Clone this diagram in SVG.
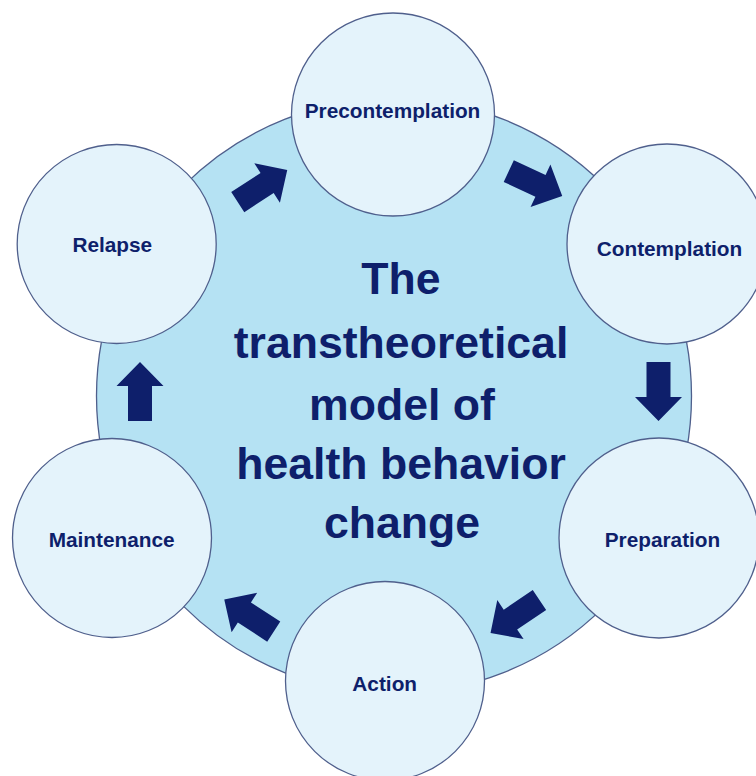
<svg xmlns="http://www.w3.org/2000/svg" xmlns:xlink="http://www.w3.org/1999/xlink" width="756" height="776" viewBox="0 0 756 776">
  <style>
    .hub { fill: #b5e2f3; stroke: #4f5f8c; stroke-width: 1.3; }
    .stage { fill: #e4f3fb; stroke: #4f5f8c; stroke-width: 1.3; }
    .label { font-family: "Liberation Sans", Arial, sans-serif; font-weight: bold; font-size: 20.8px; fill: #0e1f6b; text-anchor: middle; }
    .title { font-family: "Liberation Sans", Arial, sans-serif; font-weight: bold; font-size: 44.6px; fill: #0e1f6b; text-anchor: middle; }
    .arrow { fill: #0e1f6b; }
  </style>
  <defs>
    <!-- block arrow pointing up, centred on the origin -->
    <path id="blockArrow" d="M0,-29.5 L23.5,-5.5 L12,-5.5 L12,29.5 L-12,29.5 L-12,-5.5 L-23.5,-5.5 Z"/>
  </defs>

  <rect width="756" height="776" fill="#ffffff"/>

  <!-- central disc with the model title -->
  <g id="hub">
    <circle class="hub" cx="394" cy="396" r="297.5"/>
    <text class="title" x="401" y="294">The</text>
    <text class="title" x="401" y="358">transtheoretical</text>
    <text class="title" x="402" y="420">model of</text>
    <text class="title" x="401" y="479">health behavior</text>
    <text class="title" x="402" y="538">change</text>
  </g>

  <!-- clockwise cycle arrows -->
  <g id="connectors" class="arrow">
    <use xlink:href="#blockArrow" transform="translate(262.5,186) rotate(57)"/>
    <use xlink:href="#blockArrow" transform="translate(535.5,183.5) rotate(115)"/>
    <use xlink:href="#blockArrow" transform="translate(658.5,391.5) rotate(180)"/>
    <use xlink:href="#blockArrow" transform="translate(515,616.5) rotate(236)"/>
    <use xlink:href="#blockArrow" transform="translate(249,615.5) rotate(-57)"/>
    <use xlink:href="#blockArrow" transform="translate(140,391.5)"/>
  </g>

  <g id="precontemplation">
    <circle class="stage" cx="393" cy="114.5" r="101.5"/>
    <text class="label" x="392.5" y="118">Precontemplation</text>
  </g>
  <g id="contemplation">
    <circle class="stage" cx="667" cy="244" r="100"/>
    <text class="label" x="669.5" y="256">Contemplation</text>
  </g>
  <g id="preparation">
    <circle class="stage" cx="659" cy="538" r="100"/>
    <text class="label" x="662.5" y="547">Preparation</text>
  </g>
  <g id="action">
    <circle class="stage" cx="385" cy="681" r="99.5"/>
    <text class="label" x="384.7" y="691">Action</text>
  </g>
  <g id="maintenance">
    <circle class="stage" cx="112" cy="538" r="99.5"/>
    <text class="label" x="111.7" y="547">Maintenance</text>
  </g>
  <g id="relapse">
    <circle class="stage" cx="116.7" cy="244" r="99.5"/>
    <text class="label" x="112.3" y="251.5">Relapse</text>
  </g>
</svg>
